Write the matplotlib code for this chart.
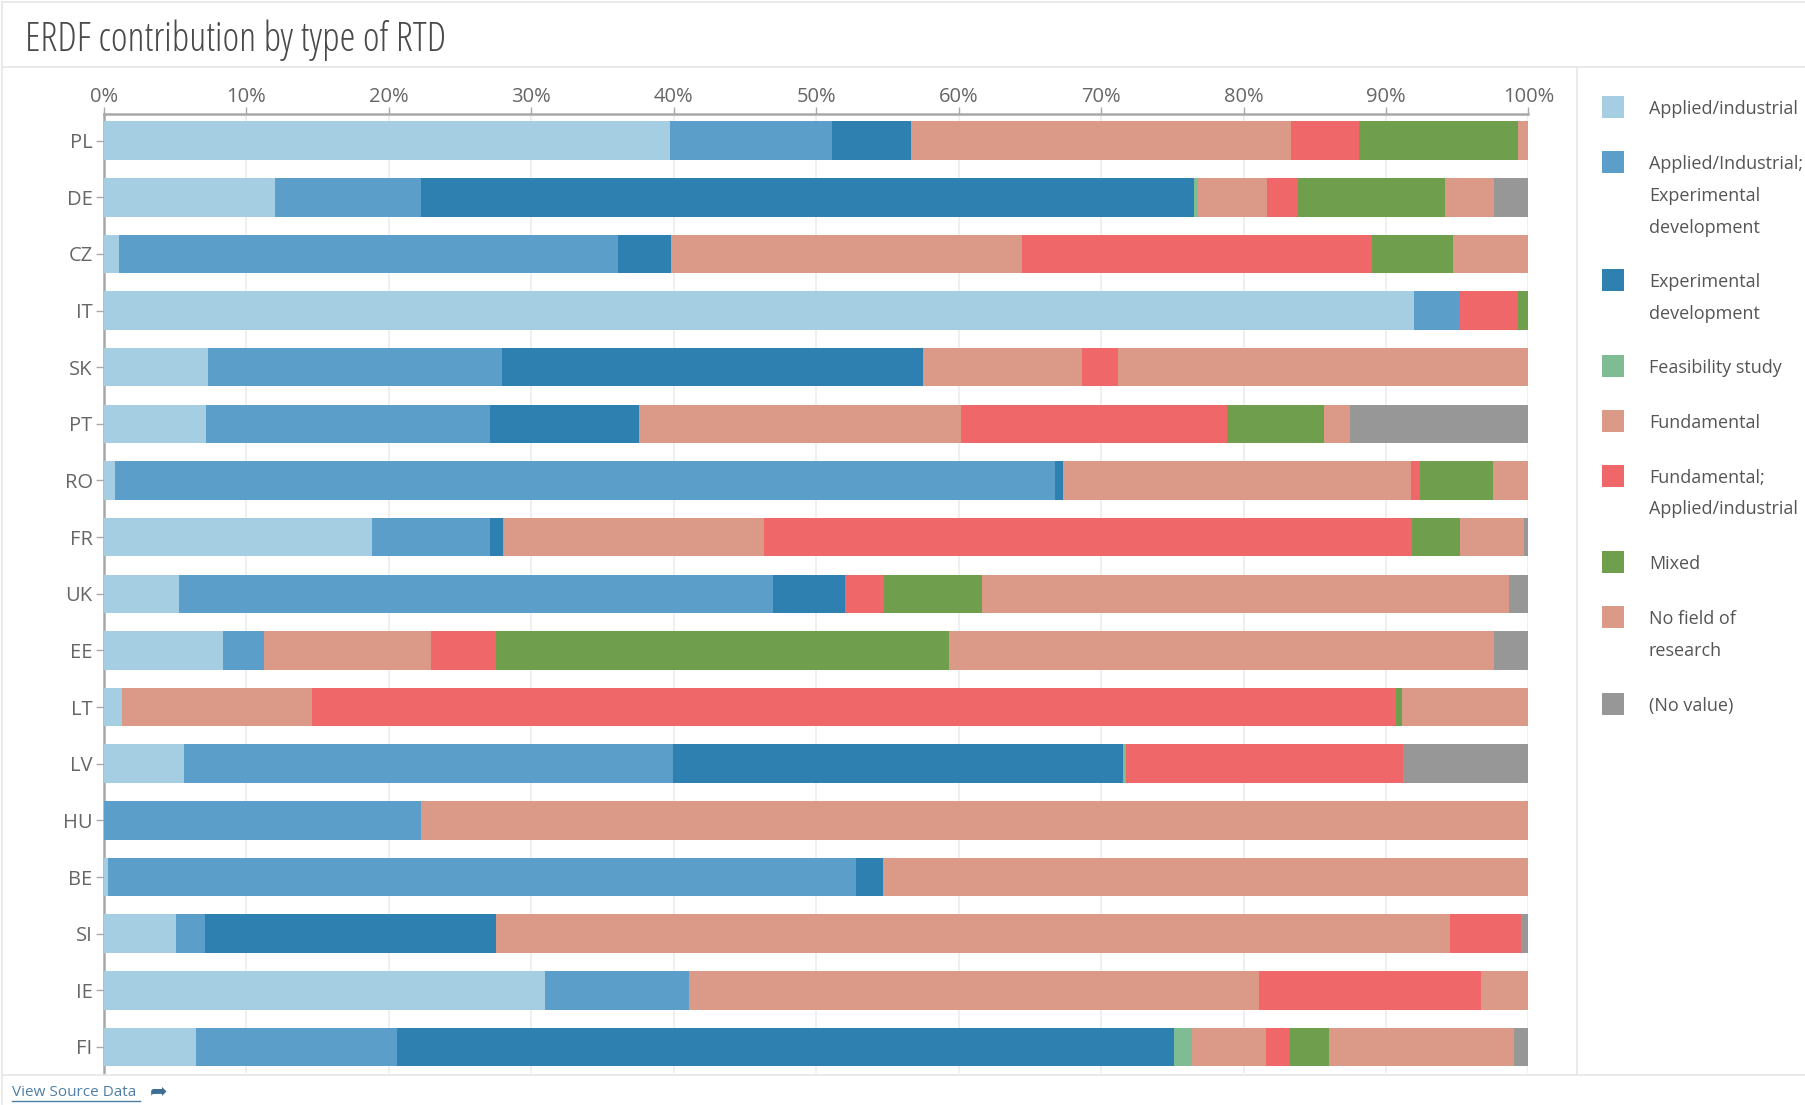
import matplotlib
matplotlib.use('Agg')
import matplotlib.pyplot as plt
from matplotlib import font_manager as fm
from matplotlib.patches import Rectangle
from matplotlib.lines import Line2D
import numpy as np

countries = ['PL', 'DE', 'CZ', 'IT', 'SK', 'PT', 'RO', 'FR', 'UK', 'EE', 'LT',
             'LV', 'HU', 'BE', 'SI', 'IE', 'FI']
series_names = ['Applied/industrial',
                'Applied/Industrial;\nExperimental\ndevelopment',
                'Experimental\ndevelopment',
                'Feasibility study',
                'Fundamental',
                'Fundamental;\nApplied/industrial',
                'Mixed',
                'No field of\nresearch',
                '(No value)']

applied = [39.76, 12.0, 1.04, 91.94, 7.31, 7.2, 0.82, 18.8, 5.3, 8.35, 1.25, 5.62, 0, 0.29, 5.09, 30.95, 6.48]
applied_exp = [11.34, 10.28, 35.03, 3.28, 20.66, 19.88, 65.96, 8.28, 41.69, 2.93, 0, 34.32, 22.28, 52.54, 2.0, 10.13, 14.11]
experimental = [5.53, 54.27, 3.76, 0, 29.5, 10.46, 0.53, 0.97, 5.03, 0, 0, 31.62, 0, 1.85, 20.42, 0, 54.53]
feasibility = [0, 0.25, 0, 0, 0, 0, 0, 0.07, 0, 0, 0, 0.21, 0, 0, 0, 0, 1.26]
fundamental = [26.73, 4.88, 24.62, 0, 11.2, 22.65, 24.42, 18.19, 0, 11.68, 13.36, 0, 77.72, 45.32, 66.98, 40.01, 5.23]
fund_applied = [4.71, 2.13, 24.56, 4.05, 2.51, 18.67, 0.63, 45.49, 2.76, 4.55, 76.07, 19.44, 0, 0, 4.99, 15.56, 1.68]
mixed = [11.2, 10.36, 5.69, 0.73, 0, 6.8, 5.13, 3.42, 6.87, 31.84, 0.42, 0, 0, 0, 0, 0, 2.68]
no_field = [0.73, 3.42, 5.3, 0, 28.82, 1.81, 2.51, 4.47, 36.99, 38.24, 8.9, 0, 0, 0, 0, 3.35, 12.98]
no_value = [0, 2.41, 0, 0, 0, 12.53, 0, 0.31, 1.36, 2.41, 0, 8.79, 0, 0, 0.52, 0, 1.05]

x_ticks = [0, 10, 20, 30, 40, 50, 60, 70, 80, 90, 100]
x_tick_labels = ['0%', '10%', '20%', '30%', '40%', '50%', '60%', '70%', '80%', '90%', '100%']

colors = ['#a6cee3', '#5b9ec9', '#2e80b0', '#7fbc94', '#db9a88',
          '#f06769', '#6f9e4c', '#db9a88', '#979797']


def pick(cands, **kw):
    for c in cands:
        try:
            fm.findfont(fm.FontProperties(family=c, **kw), fallback_to_default=False)
            return c
        except Exception:
            pass
    return 'DejaVu Sans'


def light_path(family):
    for f in fm.fontManager.ttflist:
        if f.name == family and f.style == 'normal' and (
                f.weight in (300, 'light') or 'Light' in f.fname):
            return f.fname
    return None


base_font = pick(['Open Sans', 'Noto Sans', 'DejaVu Sans'])
plt.rcParams['font.family'] = [base_font, 'DejaVu Sans']

lp = light_path(base_font)
if lp:
    title_props = fm.FontProperties(fname=lp, size=28.8)
else:
    title_props = fm.FontProperties(family=[base_font, 'DejaVu Sans'], size=20)

W, H = 1806, 1105
fig = plt.figure(figsize=(W / 100, H / 100), dpi=100)
fig.patch.set_facecolor('white')


def fx(px):
    return px / W


def fy(py):
    return 1 - py / H


ax = fig.add_axes([fx(103.7), fy(1073), fx(1528.5) - fx(103.7), fy(114) - fy(1073)])

series = [applied, applied_exp, experimental, feasibility, fundamental,
          fund_applied, mixed, no_field, no_value]
ypos = np.arange(len(countries))
left = np.zeros(len(countries))
for vals, col in zip(series, colors):
    v = np.array(vals, dtype=float)
    ax.barh(ypos, v, left=left, height=0.68, color=col, edgecolor='none', zorder=3)
    left += v

ax.set_xlim(0, 100)
ax.set_ylim(len(countries) - 1 + 0.46, -0.47)
ax.set_yticks(ypos)
ax.set_yticklabels(countries)
ax.xaxis.tick_top()
ax.set_xticks(x_ticks)
ax.set_xticklabels(x_tick_labels)
ax.tick_params(axis='x', direction='out', length=5, width=1, color='#aaaaaa',
               labelsize=14.5, labelcolor='#666666', pad=0)
ax.tick_params(axis='y', direction='out', length=6, width=1, color='#aaaaaa',
               labelsize=14.5, labelcolor='#666666', pad=2)
ax.grid(axis='x', color='#ececec', linewidth=1.2, zorder=0)
ax.set_axisbelow(True)
for s in ['right', 'bottom']:
    ax.spines[s].set_visible(False)
for s in ['top', 'left']:
    ax.spines[s].set_color('#a8a8a8')
    ax.spines[s].set_linewidth(1.8)
ax.set_facecolor('none')

# frame lines
line_c = '#e6e6e6'
fig.add_artist(Line2D([fx(2), fx(2)], [fy(2), fy(1104)], color=line_c, lw=1.2))
fig.add_artist(Line2D([fx(2), fx(1806)], [fy(2), fy(2)], color=line_c, lw=1.2))
fig.add_artist(Line2D([fx(2), fx(1806)], [fy(67), fy(67)], color=line_c, lw=1.2))
fig.add_artist(Line2D([fx(2), fx(1806)], [fy(1075), fy(1075)], color=line_c, lw=1.2))
fig.add_artist(Line2D([fx(1577), fx(1577)], [fy(67), fy(1075)], color=line_c, lw=1.2))

# title
fig.text(fx(25), fy(40), 'ERDF contribution by type of RTD',
         fontproperties=title_props, color='#4a4a4a', va='center', ha='left')

# legend
leg_y = [107, 162.4, 280, 366, 421.5, 475.7, 562, 617, 704]
for name, col, yy in zip(series_names, colors, leg_y):
    fig.add_artist(Rectangle((fx(1602), fy(yy + 11)), fx(22), fy(0) - fy(22),
                             facecolor=col, edgecolor='none', transform=fig.transFigure))
    fig.text(fx(1649), fy(yy - 7), name, fontsize=13, color='#555555', va='top',
             ha='left', linespacing=1.97, transform=fig.transFigure)

# source link
fig.text(fx(12), fy(1093), 'View Source Data', fontsize=11, color='#4f7fa3',
         va='center', ha='left')
fig.add_artist(Line2D([fx(12), fx(140)], [fy(1101), fy(1101)], color='#4f7fa3', lw=1))
fig.text(fx(150), fy(1092), '\u27a6', fontsize=15, color='#3d6e95', va='center',
         ha='left', family=['DejaVu Sans'])

fig.savefig('out.png', dpi=100, facecolor='white')
